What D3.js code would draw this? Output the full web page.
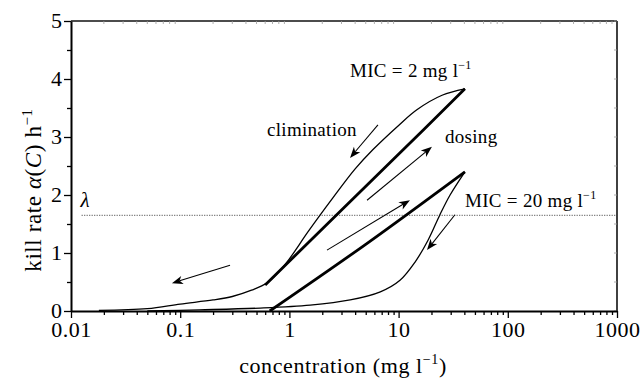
<!DOCTYPE html>
<html>
<head>
<meta charset="utf-8">
<script src="https://cdn.jsdelivr.net/npm/d3@7/dist/d3.min.js"></script>
<style>
  body { margin: 0; background: #fff; }
  svg text { font-family: "Times New Roman", Times, "Liberation Serif", "Nimbus Roman", serif; fill: #000; }
</style>
</head>
<body>
<svg id="chart" width="643" height="382"></svg>
<script>
// tick labels
var xTicks = [0.01, 0.1, 1, 10, 100, 1000];
var yTicks = [0, 1, 2, 3, 4, 5];
var yMinor = [0.5, 1.5, 2.5, 3.5, 4.5];

// host growth rate (dotted line)
var lambda = 1.65;

// MIC = 2 loop: [concentration, kill rate]
var mic2Dosing = [[0.6, 0.45], [11, 2.78], [40.5, 3.83]];
var mic2Elimination = [
  [0.018, 0.01], [0.05, 0.04], [0.1, 0.12], [0.2, 0.19], [0.3, 0.25],
  [0.45, 0.36], [0.62, 0.48], [0.82, 0.7], [1.0, 0.9], [1.5, 1.38],
  [2.5, 1.95], [4, 2.45], [5.8, 2.78], [10, 3.2], [14.7, 3.47],
  [25, 3.72], [40.5, 3.83]
];

// MIC = 20 loop
var mic20Dosing = [[0.66, 0], [5, 1.15], [40.5, 2.4]];
var mic20Elimination = [
  [0.05, 0], [0.15, 0.02], [0.54, 0.05], [1.55, 0.1], [3.6, 0.19],
  [6.8, 0.33], [10.3, 0.53], [14.1, 0.84], [18.6, 1.22], [23.9, 1.66],
  [29.6, 2.0], [40.5, 2.4]
];

// annotation arrows: from -> to
var arrows = [
  { from: [6.47, 3.21], to: [3.59, 2.64] },
  { from: [5.14, 1.91], to: [20.2, 2.83] },
  { from: [2.21, 1.05], to: [12.7, 1.91] },
  { from: [32.8, 1.66], to: [18.2, 1.05] },
  { from: [0.286, 0.79], to: [0.084, 0.48] }
];

var W = 643, H = 382;
var margin = { top: 21, right: 26, bottom: 71, left: 71 };

var svg = d3.select("#chart");

var x = d3.scaleLog().domain([0.01, 1000]).range([margin.left, W - margin.right]);
var y = d3.scaleLinear().domain([0, 5]).range([H - margin.bottom, margin.top]);

var xMinor = [];
xTicks.slice(0, -1).forEach(function (d) {
  for (var k = 2; k <= 9; k++) { xMinor.push(d * k); }
});

// frame top / right with inward mirror ticks
var frame = svg.append("g").attr("stroke", "#111").attr("fill", "none");
frame.append("line")
  .attr("x1", x(0.01)).attr("x2", x(1000))
  .attr("y1", y(5)).attr("y2", y(5))
  .attr("stroke-width", 1.6);
frame.append("line")
  .attr("x1", x(1000)).attr("x2", x(1000))
  .attr("y1", y(5)).attr("y2", y(0))
  .attr("stroke-width", 1.6);
frame.selectAll(".tt")
  .data(xMinor)
  .enter().append("line")
  .attr("x1", function (d) { return x(d); })
  .attr("x2", function (d) { return x(d); })
  .attr("y1", y(5)).attr("y2", y(5) + 3)
  .attr("stroke", "#999").attr("stroke-width", 0.8);
frame.selectAll(".rt")
  .data(yMinor.concat(yTicks))
  .enter().append("line")
  .attr("x1", x(1000)).attr("x2", x(1000) - 3)
  .attr("y1", function (d) { return y(d); })
  .attr("y2", function (d) { return y(d); })
  .attr("stroke", "#999").attr("stroke-width", 0.8);

// λ dotted line
svg.append("line")
  .attr("x1", x(0.0125)).attr("x2", x(1000))
  .attr("y1", y(lambda)).attr("y2", y(lambda))
  .attr("stroke", "#444")
  .attr("stroke-width", 0.9)
  .attr("stroke-dasharray", "1.2,1.3");

svg.append("text")
  .attr("x", x(0.0122)).attr("y", y(lambda) - 8)
  .style("font-size", "21px").style("font-style", "italic")
  .text("λ");

// curves
var thin = d3.line()
  .x(function (d) { return x(d[0]); })
  .y(function (d) { return y(d[1]); })
  .curve(d3.curveCatmullRom.alpha(0.5));

var curves = [
  { data: mic2Elimination, w: 1.3 },
  { data: mic20Elimination, w: 1.3 },
  { data: mic2Dosing, w: 2.8 },
  { data: mic20Dosing, w: 2.8 }
];

svg.selectAll(".curve")
  .data(curves)
  .enter().append("path")
  .attr("class", "curve")
  .attr("fill", "none")
  .attr("stroke", "#000")
  .attr("stroke-linejoin", "round")
  .attr("stroke-width", function (d) { return d.w; })
  .attr("d", function (d) { return thin(d.data); });

// arrows
var arrowG = svg.append("g");
arrows.forEach(function (a) {
  var x1 = x(a.from[0]), y1 = y(a.from[1]);
  var x2 = x(a.to[0]), y2 = y(a.to[1]);
  var ang = Math.atan2(y2 - y1, x2 - x1);
  var len = 11, half = 4.2, notch = 8;
  var ux = Math.cos(ang), uy = Math.sin(ang);
  var bx = x2 - ux * len, by = y2 - uy * len;
  var nx = x2 - ux * notch, ny = y2 - uy * notch;
  arrowG.append("line")
    .attr("x1", x1).attr("y1", y1)
    .attr("x2", nx).attr("y2", ny)
    .attr("stroke", "#000").attr("stroke-width", 1.1);
  arrowG.append("path")
    .attr("d", "M" + x2 + "," + y2 +
      "L" + (bx - uy * half) + "," + (by + ux * half) +
      "L" + nx + "," + ny +
      "L" + (bx + uy * half) + "," + (by - ux * half) + "Z")
    .attr("fill", "#000");
});

// axes
var xAxisG = svg.append("g")
  .attr("transform", "translate(0," + y(0) + ")")
  .call(d3.axisBottom(x).tickValues(xTicks).tickSize(7).tickSizeOuter(0)
    .tickFormat(d3.format("~g")));
svg.append("g")
  .attr("transform", "translate(0," + y(0) + ")")
  .call(d3.axisBottom(x).tickValues(xMinor).tickSize(4).tickSizeOuter(0).tickFormat(""))
  .call(function (g) { g.select(".domain").remove(); });

var yAxisG = svg.append("g")
  .attr("transform", "translate(" + x(0.01) + ",0)")
  .call(d3.axisLeft(y).tickValues(yTicks).tickSize(7).tickSizeOuter(0)
    .tickFormat(d3.format("d")));
svg.append("g")
  .attr("transform", "translate(" + x(0.01) + ",0)")
  .call(d3.axisLeft(y).tickValues(yMinor).tickSize(4).tickSizeOuter(0).tickFormat(""))
  .call(function (g) { g.select(".domain").remove(); });

svg.selectAll(".domain").attr("stroke-width", 2).attr("stroke", "#000");
svg.selectAll(".tick line").attr("stroke-width", 1.3).attr("stroke", "#000");

svg.selectAll(".tick text").attr("font-family", null);
xAxisG.selectAll(".tick text")
  .style("font-size", "22px")
  .style("letter-spacing", "0.5px")
  .attr("dy", "0.95em").attr("y", 5);
yAxisG.selectAll(".tick text")
  .style("font-size", "22px")
  .attr("x", -9).attr("dy", "0.30em");

// axis titles
var xt = svg.append("text")
  .attr("x", 343).attr("y", 373)
  .attr("text-anchor", "middle")
  .style("font-size", "22px")
  .style("letter-spacing", "0.6px");
xt.append("tspan").text("concentration (mg l");
xt.append("tspan").attr("dy", -9).style("font-size", "14px").text("−1");
xt.append("tspan").attr("dy", 9).text(")");

var yt = svg.append("text")
  .attr("transform", "translate(41,190) rotate(-90)")
  .attr("text-anchor", "middle")
  .style("font-size", "23px")
  .style("letter-spacing", "0.6px");
yt.append("tspan").text("kill rate ");
yt.append("tspan").style("font-style", "italic").text("α");
yt.append("tspan").text("(");
yt.append("tspan").style("font-style", "italic").text("C");
yt.append("tspan").text(") h");
yt.append("tspan").attr("dy", -9).style("font-size", "15px").text("−1");

// annotations
function label(xp, yp, parts) {
  var t = svg.append("text").attr("x", xp).attr("y", yp)
    .style("font-size", "19px").style("letter-spacing", "0.3px");
  parts.forEach(function (p) {
    var s = t.append("tspan").text(p.t);
    if (p.sup) { s.attr("dy", -8).style("font-size", "12px"); }
  });
  return t;
}
label(350, 77, [{ t: "MIC = 2  mg l" }, { t: "−1", sup: true }]);
label(465, 207, [{ t: "MIC = 20 mg l" }, { t: "−1", sup: true }]);
label(267, 136, [{ t: "climination" }]);
label(445, 143, [{ t: "dosing" }]);
</script>
</body>
</html>
